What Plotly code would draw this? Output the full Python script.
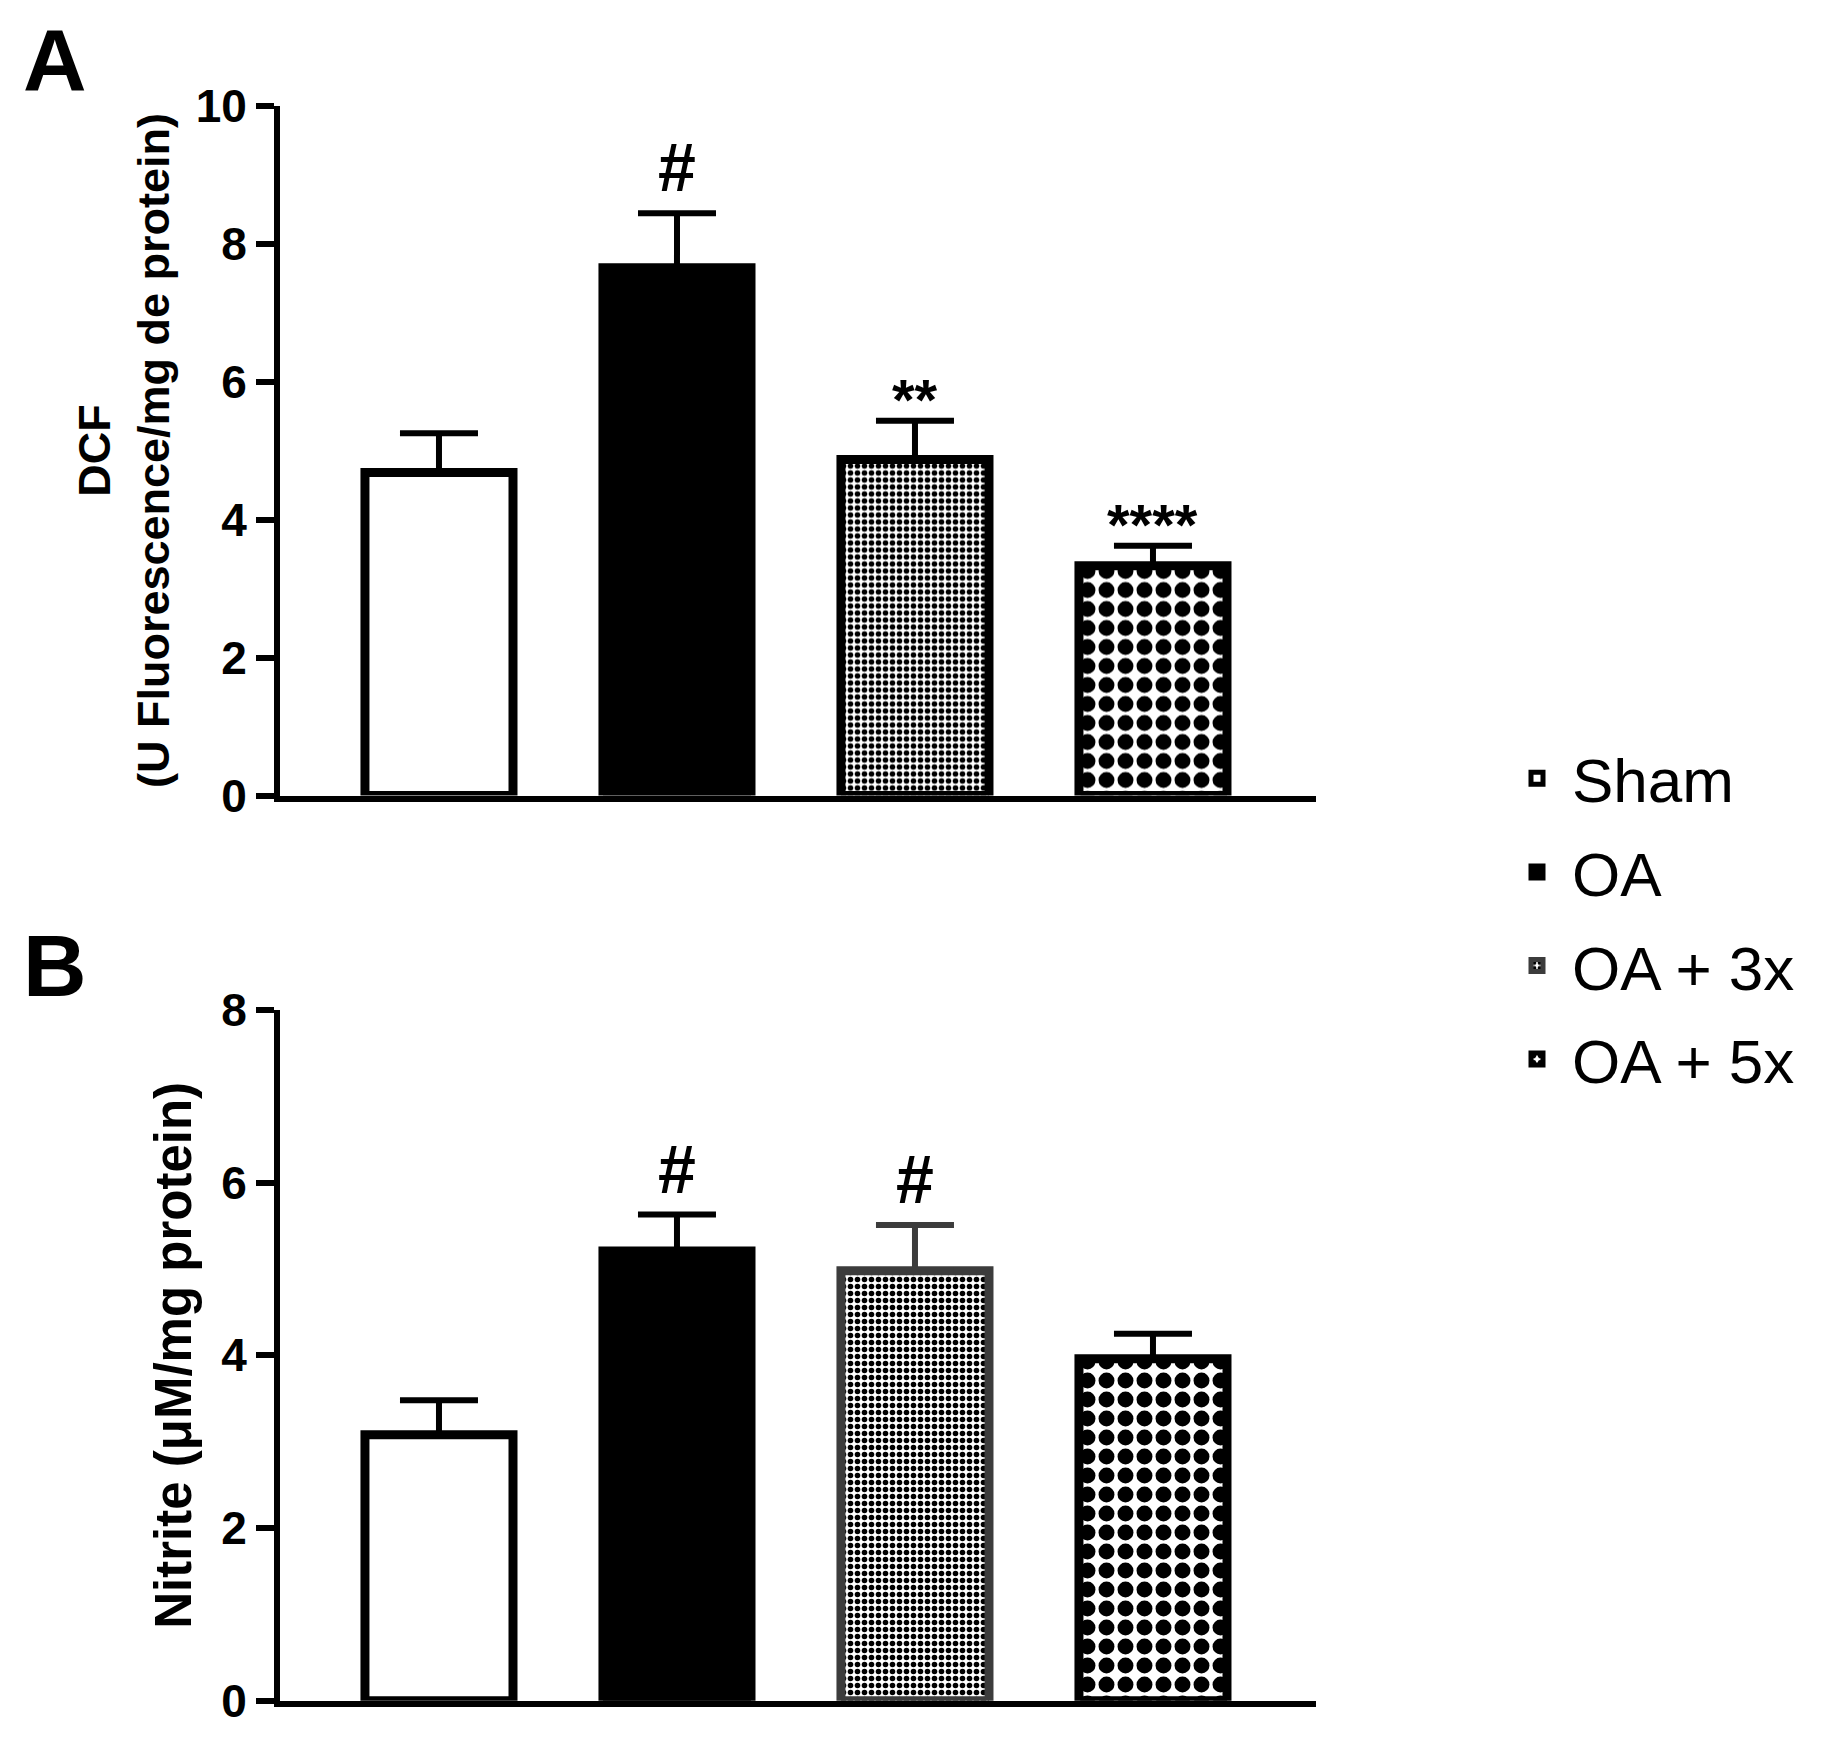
import plotly.graph_objects as go

# ---------------- data ----------------
groups = ["Sham", "OA", "OA + 3x", "OA + 5x"]

dcf_mean = [4.68, 7.65, 4.87, 3.33]
dcf_sem = [0.57, 0.79, 0.56, 0.29]
dcf_sig = ["", "#", "**", "****"]

nitrite_mean = [3.08, 5.21, 4.98, 3.96]
nitrite_sem = [0.40, 0.42, 0.53, 0.29]
nitrite_sig = ["", "#", "#", ""]

dcf_ticks = [0, 2, 4, 6, 8, 10]
nitrite_ticks = [0, 2, 4, 6, 8]

# ---------------- styles ----------------
OFF = 8                      # default page margin of the html body
W, H = 1829 - OFF, 1738 - OFF
FONT = "Liberation Sans, Arial, sans-serif"


def px(v):  # page x (px) -> paper fraction
    return (v - OFF) / W


def py(v):  # page y (px, from top) -> paper fraction
    return 1 - (v - OFF) / H


fill_colors = ["white", "black", "white", "white"]
patterns = [
    dict(shape=""),
    dict(shape=""),
    dict(shape=".", fgcolor="black", bgcolor="white", fgopacity=1, size=7, solidity=0.5),
    dict(shape=".", fgcolor="black", bgcolor="white", fgopacity=1, size=19, solidity=0.55),
]
edge_A = ["black", "black", "black", "black"]
edge_B = ["black", "black", "#3c3c3c", "black"]

fig = go.Figure()


def add_panel(means, sems, edges, xa, ya, show_legend):
    for i, g in enumerate(groups):
        fig.add_trace(go.Bar(
            x=[g], y=[means[i]], name=g,
            xaxis=xa, yaxis=ya,
            width=0.622,
            marker=dict(color=fill_colors[i], pattern=patterns[i],
                        line=dict(color=edges[i], width=9)),
            error_y=dict(type="data", array=[sems[i]], arrayminus=[0],
                         symmetric=False, color=edges[i],
                         thickness=6, width=39),
            showlegend=show_legend, legendgroup=g,
        ))


add_panel(dcf_mean, dcf_sem, edge_A, "x", "y", False)
add_panel(nitrite_mean, nitrite_sem, edge_B, "x2", "y2", True)

annotations = []


def add_sig(means, sems, sigs, xref, yref):
    for i, g in enumerate(groups):
        s = sigs[i]
        if not s:
            continue
        star = s.startswith("*")
        annotations.append(dict(
            x=g, y=means[i] + sems[i], xref=xref, yref=yref,
            text=s, showarrow=False, xanchor="center", yanchor="bottom",
            yshift=-13 if star else 6,
            font=dict(family=FONT, size=58 if star else 68,
                      color="black", weight="bold"),
        ))


add_sig(dcf_mean, dcf_sem, dcf_sig, "x", "y")
add_sig(nitrite_mean, nitrite_sem, nitrite_sig, "x2", "y2")

# panel letters
annotations.append(dict(
    x=px(20.8), y=1, xref="paper", yref="paper", text="A",
    showarrow=False, xanchor="left", yanchor="top",
    font=dict(family=FONT, size=88, color="black", weight="bold"),
))
annotations.append(dict(
    x=px(20.8), y=py(965), xref="paper", yref="paper", text="B",
    showarrow=False, xanchor="left", yanchor="middle",
    font=dict(family=FONT, size=88, color="black", weight="bold"),
))

xdom = [px(280), px(1316)]
xrange_ = [-0.668, 3.685]

common_x = dict(domain=xdom, range=xrange_, showticklabels=False, ticks="",
                showline=True, linecolor="black", linewidth=6,
                showgrid=False, zeroline=False, type="category",
                categoryorder="array", categoryarray=groups, automargin=False)
common_y = dict(showline=True, linecolor="black", linewidth=6,
                ticks="outside", ticklen=18, tickwidth=6, tickcolor="black",
                showgrid=False, zeroline=False, automargin=False,
                tickfont=dict(family=FONT, size=46, color="black", weight="bold"))

fig.update_layout(
    width=W, height=H,
    margin=dict(l=0, r=0, t=0, b=0, pad=0, autoexpand=False),
    paper_bgcolor="white", plot_bgcolor="white",
    barmode="overlay",
    font=dict(family=FONT, color="black"),
    xaxis=dict(anchor="y", **common_x),
    yaxis=dict(anchor="x", domain=[py(795.5), py(105.5)],
               range=[0, 10], tickvals=dcf_ticks,
               title=dict(text="DCF<br>(U Fluorescence/mg de protein)",
                          standoff=14,
                          font=dict(family=FONT, size=45, color="black", weight="bold")),
               **common_y),
    xaxis2=dict(anchor="y2", **common_x),
    yaxis2=dict(anchor="x2", domain=[py(1700.7), py(1010)],
                range=[0, 8], tickvals=nitrite_ticks,
                title=dict(text="Nitrite (μM/mg protein)", standoff=15,
                           font=dict(family=FONT, size=51, color="black", weight="bold")),
                **common_y),
    legend=dict(x=px(1502), y=py(919), xanchor="left", yanchor="middle",
                font=dict(family=FONT, size=62, color="black"),
                traceorder="grouped", tracegroupgap=10,
                itemwidth=60, bgcolor="rgba(0,0,0,0)"),
    annotations=annotations,
    showlegend=True,
)

fig.write_html("out.html")
